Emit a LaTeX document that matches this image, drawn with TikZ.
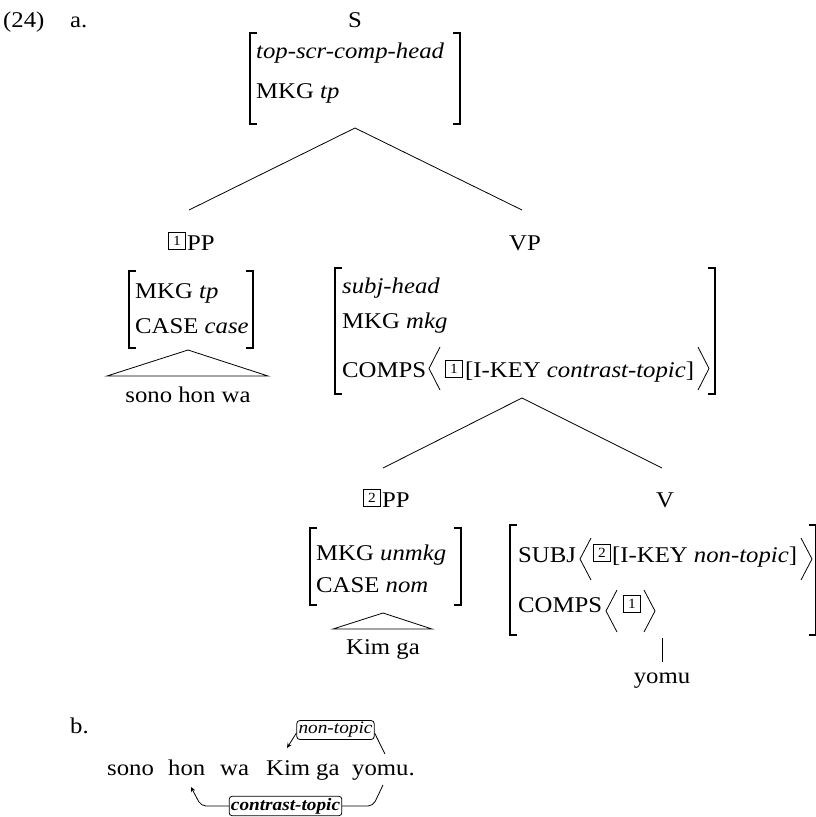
\documentclass[tikz,border=0pt]{standalone}
\usepackage{fontspec}
\setmainfont{Liberation Serif}[FakeStretch=1.1]
\usetikzlibrary{arrows.meta,calc}
\newcommand{\lbrk}[3]{\draw[brk] (#1+7,#2) -- (#1,#2) -- (#1,#3) -- (#1+7,#3);}
\newcommand{\rbrk}[3]{\draw[brk] (#1-7,#2) -- (#1,#2) -- (#1,#3) -- (#1-7,#3);}
\newcommand{\langl}[4]{\draw[ang] (#2,#3) -- (#1,{(#3+#4)/2}) -- (#2,#4);}
\newcommand{\rangl}[4]{\draw[ang] (#1,#3) -- (#2,{(#3+#4)/2}) -- (#1,#4);}
\tikzset{
 txt/.style={anchor=base west, inner sep=0pt, font=\fontsize{22.5}{27}\selectfont},
 lbl/.style={anchor=base, inner sep=0pt, font=\fontsize{22.5}{27}\selectfont},
 tagbox/.style={draw, line width=1.7pt, inner sep=0pt, minimum width=17pt, minimum height=17pt, font=\fontsize{14}{14}\selectfont},
 brk/.style={line width=1.2pt},
 edge/.style={line width=0.8pt},
 ang/.style={line width=0.8pt},
 ibox/.style={draw, rounded corners=3pt, inner sep=1.8pt, line width=0.8pt, font=\fontsize{17.5}{17.5}\selectfont\itshape},
 arr/.style={line width=0.8pt, -{Stealth[length=5pt,width=4.5pt]}},
}
\begin{document}
\begin{tikzpicture}[x=1pt,y=-1pt]
\useasboundingbox (0,0) rectangle (815,817);
% header
\node[txt] (num) at (3,27) {(24)};
\node[txt] (la) at (70,27) {a.};
\node[lbl] (S) at (355,27) {S};
% S AVM
\lbrk{250}{33}{124}
\rbrk{460}{33}{124}
\node[txt] (s1) at (256,58) {\textit{top-scr-comp-head}};
\node[txt] (s2) at (256,98) {MKG \textit{tp}};
\coordinate (Sapex) at (355,128);
\coordinate (PPatop) at (189,210);
\coordinate (VPtop) at (522,210);
\draw[edge] (Sapex) -- (PPatop);
\draw[edge] (Sapex) -- (VPtop);
% 1PP
\node[tagbox] (t1a) at (177,241) {1};
\node[txt] (PPa) at (187,250) {PP};
\lbrk{129}{271}{348}
\rbrk{253}{271}{348}
\node[txt] (pa1) at (135,298) {MKG \textit{tp}};
\node[txt] (pa2) at (135,333) {CASE \textit{case}};
\coordinate (tra) at (188,350);
\coordinate (tral) at (107,376);
\coordinate (trar) at (268,376);
\draw[edge] (tral) -- (tra) -- (trar) -- cycle;
\node[lbl] (sonohonwa) at (188,402) {sono hon wa};
% VP
\node[lbl] (VP) at (525,250) {VP};
\lbrk{335}{268}{394}
\rbrk{715}{268}{394}
\node[txt] (v1) at (342,293) {\textit{subj-head}};
\node[txt] (v2) at (342,328) {MKG \textit{mkg}};
\node[txt] (v3) at (342,377) {COMPS};
\langl{429}{440}{347}{390}
\node[tagbox] (t1b) at (454,369) {1};
\node[txt] (v3b) at (465,377) {[I-KEY \textit{contrast-topic}]};
\rangl{698}{709}{347}{390}
\coordinate (VPapex) at (522,398);
\coordinate (PPbtop) at (383,468);
\coordinate (Vtop) at (662,468);
\draw[edge] (VPapex) -- (PPbtop);
\draw[edge] (VPapex) -- (Vtop);
% 2PP
\node[tagbox] (t2a) at (372,498) {2};
\node[txt] (PPb) at (382,507) {PP};
\lbrk{310}{528}{605}
\rbrk{461}{528}{605}
\node[txt] (pb1) at (316,560) {MKG \textit{unmkg}};
\node[txt] (pb2) at (316,592) {CASE \textit{nom}};
\coordinate (trb) at (383,613);
\coordinate (trbl) at (333,629);
\coordinate (trbr) at (432,629);
\draw[edge] (trbl) -- (trb) -- (trbr) -- cycle;
\node[lbl] (kimga) at (383,654) {Kim ga};
% V
\node[lbl] (V) at (665,507) {V};
\lbrk{510}{525}{635}
\rbrk{816}{525}{635}
\node[txt] (w1) at (518,562) {SUBJ};
\langl{580}{591}{538}{580}
\node[tagbox] (t2b) at (602,553) {2};
\node[txt] (w1b) at (612,562) {[I-KEY \textit{non-topic}]};
\rangl{801}{812}{538}{580}
\node[txt] (w2) at (518,612) {COMPS};
\langl{606}{617}{590}{632}
\node[tagbox] (t1c) at (632,604) {1};
\rangl{644}{655}{590}{632}
\coordinate (Vbot) at (662,638);
\coordinate (yomutop) at (662,662);
\draw[edge] (Vbot) -- (yomutop);
\node[lbl] (yomu) at (662,683) {yomu};
% b.
\node[txt] (lb) at (70,733) {b.};
\node[txt] (wsono) at (107,775) {sono};
\node[txt] (whon) at (168,775) {hon};
\node[txt] (wwa) at (220,775) {wa};
\node[txt] (wkim) at (266,775) {Kim};
\node[txt] (wga) at (316,775) {ga};
\node[txt] (wyomu) at (352,775) {yomu.};
\node[ibox] (nt) at (335.5,730) {non-topic};
\coordinate (ntarr) at (287,748);
\coordinate (ntend) at (385,754);
\draw[arr] ([yshift=-3pt]nt.west) -- (ntarr);
\draw[edge] ([yshift=-3pt]nt.east) -- (ntend);
\node[ibox, font=\fontsize{17.5}{17.5}\selectfont\bfseries\itshape] (ct) at (285.5,806) {contrast-topic};
\coordinate (ctarr) at (191,787);
\coordinate (ctend) at (383,785);
\draw[arr, rounded corners=5pt] (ct.west) -- (201,806) -- (ctarr);
\draw[edge, rounded corners=5pt] (ct.east) -- (373,806) -- (ctend);
\end{tikzpicture}
\end{document}
